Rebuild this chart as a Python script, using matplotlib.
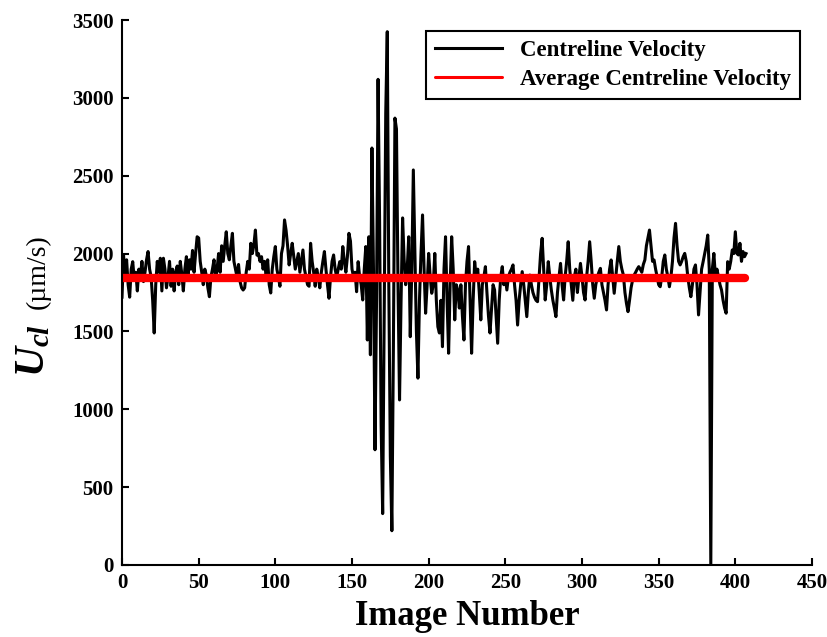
import numpy as np
import matplotlib
matplotlib.use("Agg")
from matplotlib import pyplot as plt

plt.rcParams["font.family"] = ["Liberation Serif", "DejaVu Serif"]
plt.rcParams["font.weight"] = "bold"
plt.rcParams["mathtext.fontset"] = "custom"
plt.rcParams["mathtext.it"] = "Liberation Serif:italic:bold"
plt.rcParams["mathtext.rm"] = "Liberation Serif:bold"

# centreline velocity per image (um/s)
velocity = [
    1720, 1990, 1850, 1960, 1800, 1720, 1900, 1948, 1830, 1880,
    1760, 1900, 1850, 1950, 1820, 1880, 1960, 2013, 1900, 1850,
    1700, 1490, 1800, 1950, 1880, 1970, 1760, 1970, 1900, 1780,
    1850, 1950, 1790, 1900, 1760, 1880, 1920, 1800, 1950, 1870,
    1760, 1900, 1980, 1850, 1960, 1900, 2020, 1880, 2000, 2108,
    2100, 1950, 1880, 1800, 1900, 1860, 1780, 1723, 1850, 1900,
    1960, 1830, 1900, 2000, 1880, 2050, 1950, 2050, 2140, 2000,
    1960, 2050, 2130, 1950, 1900, 1850, 1930, 1820, 1780, 1766,
    1780, 1880, 1950, 1900, 2066, 2000, 2055, 2151, 1990, 2000,
    1950, 1980, 1900, 1950, 1850, 1960, 1800, 1747, 1900, 1980,
    2045, 1900, 1850, 1790, 2000, 2050, 2216, 2150, 2050, 1927,
    2000, 2066, 1980, 1900, 1950, 2000, 1880, 1950, 2023, 1900,
    1850, 1800, 1790, 2066, 1950, 1880, 1790, 1900, 1850, 1780,
    1880, 1950, 2013, 1900, 1800, 1713, 1850, 1950, 1991, 1900,
    1850, 1900, 1948, 1900, 2045, 1950, 1880, 1980, 2130, 2080,
    1900, 1850, 1880, 1755, 1948, 1850, 1800, 1702, 1900, 2045,
    1445, 2108, 1350, 2678, 1900, 740, 1700, 3119, 2200, 900,
    330, 1600, 2900, 3425, 1800, 700, 220, 1400, 2870, 2800,
    1800, 1060, 1700, 2229, 1960, 1800, 1900, 2108, 1466, 1900,
    2537, 2000, 1500, 1200, 1700, 2000, 2248, 1900, 1617, 1800,
    2001, 1850, 1745, 1800, 2001, 1700, 1530, 1490, 1700, 1402,
    1900, 2108, 1700, 1360, 1800, 2108, 1900, 1574, 1800, 1766,
    1650, 1800, 1600, 1445, 1800, 1950, 2045, 1700, 1360, 1700,
    1948, 1850, 1900, 1750, 1574, 1800, 1850, 1916, 1750, 1600,
    1490, 1650, 1800, 1766, 1600, 1424, 1700, 1850, 1916, 1800,
    1850, 1766, 1850, 1880, 1900, 1927, 1800, 1700, 1541, 1700,
    1800, 1884, 1800, 1700, 1595, 1750, 1862, 1800, 1750, 1720,
    1700, 1691, 1850, 2000, 2098, 1900, 1702, 1800, 1948, 1850,
    1766, 1700, 1650, 1595, 1750, 1850, 1937, 1800, 1702, 1850,
    1950, 2076, 1900, 1800, 1700, 1850, 1900, 1750, 1850, 1937,
    1850, 1750, 1702, 1850, 1950, 2076, 1950, 1800, 1713, 1800,
    1850, 1880, 1905, 1800, 1750, 1700, 1638, 1800, 1900, 1959,
    1850, 1745, 1850, 1950, 2045, 1950, 1900, 1862, 1750, 1680,
    1627, 1700, 1780, 1830, 1862, 1880, 1900, 1916, 1900, 1880,
    1930, 1959, 2050, 2100, 2151, 2050, 1950, 1959, 1900, 1850,
    1800, 1787, 1850, 1950, 1991, 1900, 1850, 1787, 1850, 1950,
    2100, 2194, 2050, 1950, 1927, 1950, 1980, 2001, 1950, 1850,
    1780, 1723, 1800, 1900, 1927, 1800, 1606, 1750, 1900, 1948,
    2000, 2050, 2119, 1900, 0, 1900, 2001, 1852, 1900, 1850,
    1800, 1766, 1700, 1650, 1617, 1948, 1900, 1950, 2023, 2000,
    2140, 2000, 1991, 2066, 1950, 2013, 1980, 2000,
]
image_number = np.arange(len(velocity))

avg_velocity = 1840
avg_span = [0, 406]

fig = plt.figure(figsize=(8.28, 6.37), dpi=100)
ax = fig.add_axes([122 / 828, 72 / 637, 690 / 828, 545 / 637])

ax.plot(image_number, velocity, color="black", lw=2.2, label="Centreline Velocity")
ax.plot(avg_span, [avg_velocity, avg_velocity], color="red", lw=6,
        solid_capstyle="round", label="Average Centreline Velocity")

ax.set_xlim(0, 450)
ax.set_ylim(0, 3500)
ax.set_xticks(np.arange(0, 451, 50))
ax.set_yticks(np.arange(0, 3501, 500))
ax.spines["top"].set_visible(False)
ax.spines["right"].set_visible(False)
for s in ["left", "bottom"]:
    ax.spines[s].set_linewidth(1.5)
ax.tick_params(direction="in", length=5, width=1.5, labelsize=15, pad=6)
for lab in ax.get_xticklabels() + ax.get_yticklabels():
    lab.set_fontweight("bold")

ax.set_xlabel("Image Number", fontsize=25, fontweight="bold", labelpad=5)

fig.text(34 / 828, 1 - 350 / 637, r"$U_{cl}$", rotation=90, fontsize=30,
         ha="center", va="center")
fig.text(38 / 828, 1 - 272 / 637, "(µm/s)", rotation=90, fontsize=20,
         fontweight="normal", ha="center", va="center")

leg = ax.legend(loc="upper right", bbox_to_anchor=(0.983, 0.98),
                prop={"weight": "bold", "size": 16.5}, fancybox=False,
                framealpha=1, edgecolor="black", handlelength=2.9,
                borderaxespad=0, borderpad=0.4, labelspacing=0.35)
leg.get_frame().set_linewidth(1.5)
for h in leg.get_lines():
    h.set_linewidth(2.2)

fig.savefig("out.png", dpi=100)
